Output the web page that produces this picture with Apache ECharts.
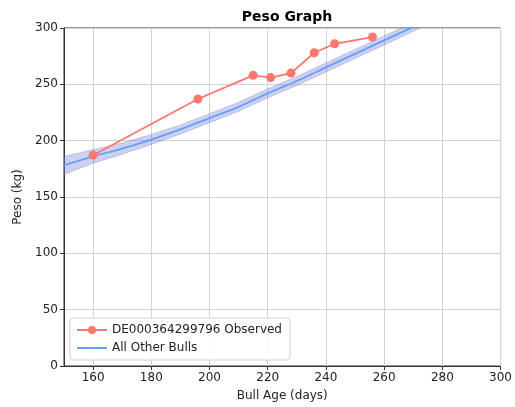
<!DOCTYPE html>
<html>
<head>
<meta charset="utf-8">
<script src="https://cdn.jsdelivr.net/npm/echarts@6/dist/echarts.min.js"></script>
<style>
  html, body { margin: 0; padding: 0; background: #fff; }
  #chart { width: 515px; height: 407px; }
</style>
</head>
<body>
<div id="chart"></div>
<script>
// observed bull
const obsDays = [160, 196, 215, 221, 228, 236, 243, 256];
const obsPeso = [187, 237, 258, 256, 260, 278, 286, 292];

// all other bulls: mean curve and confidence band
const refDays = [150, 160, 170, 180, 190, 200, 210, 220, 230, 240, 250, 260, 270, 280];
const refMean = [178, 186, 193, 201, 210, 220, 230, 242, 253, 265, 277, 289, 301, 314];
const refLower = [170, 180, 188, 196.5, 206, 216, 226, 238, 249, 261, 273, 285, 297, 310];
const refUpper = [186, 192, 198, 205.5, 214, 224, 234, 246, 257, 269, 281, 293, 305, 318];

const obsName = "DE000364299796 Observed";
const refName = "All Other Bulls";

const font = "DejaVu Sans";
const chart = echarts.init(document.getElementById("chart"));

// band polygon: upper edge left->right, lower edge right->left
function renderBand(params, api) {
    const pts = [];
    for (let i = 0; i < refDays.length; i++) {
        pts.push(api.coord([refDays[i], refUpper[i]]));
    }
    for (let i = refDays.length - 1; i >= 0; i--) {
        pts.push(api.coord([refDays[i], refLower[i]]));
    }
    const cs = params.coordSys;
    return {
        type: "polygon",
        shape: { points: pts },
        style: {
            fill: "rgba(120, 125, 210, 0.36)",
            stroke: "rgba(100, 105, 200, 0.3)",
            lineWidth: 1
        },
        clipPath: {
            type: "rect",
            shape: { x: cs.x, y: cs.y, width: cs.width, height: cs.height }
        }
    };
}

const option = {
    animation: false,
    textStyle: { fontFamily: font },
    title: {
        text: "Peso Graph",
        left: 282,
        textAlign: "center",
        top: 5,
        textStyle: { fontFamily: font, fontSize: 14, fontWeight: "bold", color: "#000" }
    },
    grid: {
        left: 64,
        right: 14,
        top: 28,
        bottom: 40,
        show: true,
        borderColor: "#333",
        borderWidth: 1
    },
    legend: {
        left: 70,
        top: 318,
        orient: "vertical",
        data: [
            { name: obsName },
            { name: refName, icon: "path://M0,0 L30,0 L30,2 L0,2 Z" }
        ],
        itemWidth: 30,
        itemHeight: 10,
        itemGap: 6,
        padding: [6, 8, 6, 6],
        borderColor: "#d0d0d0",
        borderWidth: 1,
        borderRadius: 3,
        backgroundColor: "rgba(255,255,255,0.85)",
        textStyle: { fontFamily: font, fontSize: 12, color: "#222" }
    },
    xAxis: {
        type: "value",
        min: 150,
        max: 300,
        splitNumber: 8,
        name: "Bull Age (days)",
        nameLocation: "middle",
        nameGap: 24,
        nameTextStyle: { fontFamily: font, fontSize: 12, color: "#222" },
        axisLine: { show: true, lineStyle: { color: "#333" } },
        axisTick: { show: true, length: 4, lineStyle: { color: "#333" } },
        axisLabel: { showMinLabel: false, color: "#222", fontSize: 12, margin: 6 },
        splitLine: { show: true, lineStyle: { color: "#d2d2d2" } }
    },
    yAxis: {
        type: "value",
        min: 0,
        max: 300,
        interval: 50,
        name: "Peso (kg)",
        nameLocation: "middle",
        nameGap: 36,
        nameTextStyle: { fontFamily: font, fontSize: 12, color: "#222" },
        axisLine: { show: true, lineStyle: { color: "#333" } },
        axisTick: { show: true, length: 4, lineStyle: { color: "#333" } },
        axisLabel: { color: "#222", fontSize: 12, margin: 6 },
        splitLine: { show: true, lineStyle: { color: "#d2d2d2" } }
    },
    series: [
        {
            name: "band",
            type: "custom",
            data: [[refDays[0], refMean[0]]],
            renderItem: renderBand,
            silent: true,
            z: 1
        },
        {
            name: refName,
            type: "line",
            data: refDays.map((d, i) => [d, refMean[i]]),
            smooth: 0.3,
            symbol: "none",
            itemStyle: { color: "#649fff" },
            lineStyle: { color: "#649fff", width: 1.8 },
            z: 3
        },
        {
            name: obsName,
            type: "line",
            data: obsDays.map((d, i) => [d, obsPeso[i]]),
            symbol: "circle",
            symbolSize: 9,
            itemStyle: { color: "#f8776e" },
            lineStyle: { color: "#f8776e", width: 1.8 },
            z: 5
        }
    ]
};

chart.setOption(option);
</script>
</body>
</html>
